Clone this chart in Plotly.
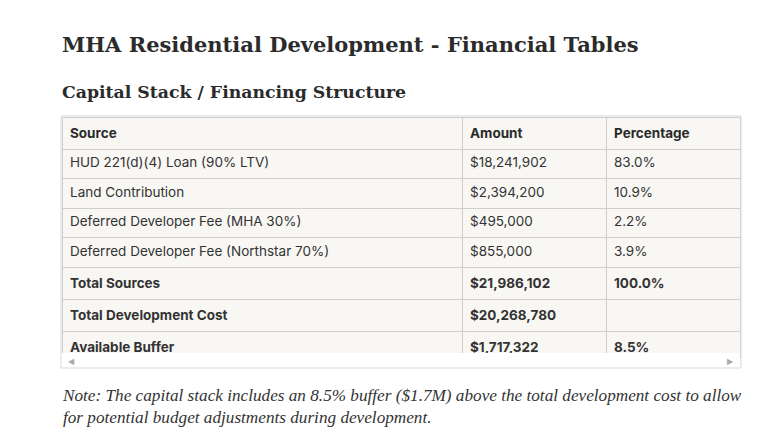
import plotly.graph_objects as go

W, H = 783, 446
sources = ["HUD 221(d)(4) Loan (90% LTV)", "Land Contribution", "Deferred Developer Fee (MHA 30%)",
           "Deferred Developer Fee (Northstar 70%)", "Total Sources", "Total Development Cost", "Available Buffer"]
amounts = ["$18,241,902", "$2,394,200", "$495,000", "$855,000", "$21,986,102", "$20,268,780", "$1,717,322"]
percentages = ["83.0%", "10.9%", "2.2%", "3.9%", "100.0%", "", "8.5%"]
bold_rows = [4, 5, 6]
headers = ["Source", "Amount", "Percentage"]

def fmt(vals):
    return [f"<b>{v}</b>" if i in bold_rows and v else v for i, v in enumerate(vals)]

OFF = 8
def px(x): return (x - OFF) / W
def py(y): return 1 - (y - OFF) / H

fig = go.Figure(go.Table(
    domain=dict(x=[px(62), px(740)], y=[py(358), py(117)]),
    columnwidth=[400, 144, 134],
    header=dict(values=[f"<b>{h}</b>" for h in headers], fill_color="#f8f7f3",
                line_color="#cfcfcf", align="left", height=28,
                font=dict(family="Inter, Roboto, sans-serif", size=13.5, color="#2a2a2a")),
    cells=dict(values=[fmt(sources), fmt(amounts), fmt(percentages)], fill_color="#f8f7f3",
               line_color="#cfcfcf", align="left", height=29.5,
               font=dict(family="Inter, Roboto, sans-serif", size=13.5, color="#333333")),
))
fig.add_shape(type="rect", xref="paper", yref="paper", x0=px(61), x1=px(741), y0=py(368), y1=py(116),
              line=dict(color="#d8d8d8", width=1))
fig.add_shape(type="rect", xref="paper", yref="paper", x0=px(62), x1=px(740), y0=py(367), y1=py(353),
              line=dict(width=0), fillcolor="white")
fig.add_annotation(x=px(66), y=py(360), xref="paper", yref="paper", text="◀", showarrow=False,
                   font=dict(size=8, color="#aaaaaa"), xanchor="left", yanchor="middle")
fig.add_annotation(x=px(736), y=py(360), xref="paper", yref="paper", text="▶", showarrow=False,
                   font=dict(size=8, color="#aaaaaa"), xanchor="right", yanchor="middle")
serif = "DejaVu Serif, serif"
fig.add_annotation(x=px(60), y=py(44), xref="paper", yref="paper", text="<b>MHA Residential Development - Financial Tables</b>",
                   showarrow=False, xanchor="left", yanchor="middle", font=dict(family=serif, size=21, color="#2b2b2b"))
fig.add_annotation(x=px(60), y=py(92), xref="paper", yref="paper", text="<b>Capital Stack / Financing Structure</b>",
                   showarrow=False, xanchor="left", yanchor="middle", font=dict(family=serif, size=17.3, color="#2b2b2b"))
fig.add_annotation(x=px(60), y=py(406), xref="paper", yref="paper",
                   text="<i>Note: The capital stack includes an 8.5% buffer ($1.7M) above the total development cost to allow<br>for potential budget adjustments during development.</i>",
                   showarrow=False, xanchor="left", yanchor="middle", align="left",
                   font=dict(family="Liberation Serif, serif", size=17.2, color="#333333"))
fig.update_layout(width=W, height=H, margin=dict(l=0, r=0, t=0, b=0), paper_bgcolor="white")
fig.write_html("out.html")
